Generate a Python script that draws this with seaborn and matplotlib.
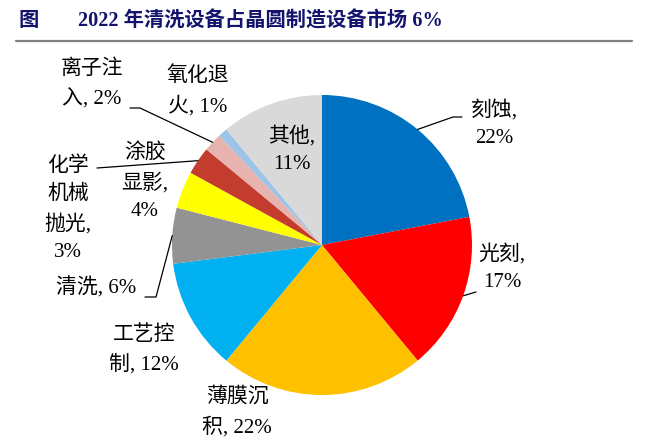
import numpy as np
import matplotlib
matplotlib.use("Agg")
import matplotlib.pyplot as plt
import seaborn as sns

sns.set_style("white")
plt.rcParams['font.family'] = ['Liberation Serif', 'Noto Sans CJK SC', 'DejaVu Sans']

# ---- data ----
categories = ["刻蚀", "光刻", "薄膜沉积", "工艺控制", "清洗", "涂胶显影", "化学机械抛光", "离子注入", "氧化退火", "其他"]
shares = [22, 17, 22, 12, 6, 4, 3, 2, 1, 11]
label_texts = ["刻蚀,\n22%", "光刻,\n17%", "薄膜沉\n积, 22%", "工艺控\n制, 12%", "清洗, 6%",
               "涂胶\n显影,\n4%", "化学\n机械\n抛光,\n3%", "离子注\n入, 2%", "氧化退\n火, 1%", "其他,\n11%"]
colors = ["#0070C0", "#FF0000", "#FFC000", "#00B0F0", "#939393", "#FFFF00",
          "#C43C2E", "#E6B3AE", "#9DC3E6", "#D9D9D9"]
title_text = "2022 年清洗设备占晶圆制造设备市场 6%"

W, H = 648, 447
fig = plt.figure(figsize=(W / 100, H / 100), dpi=100)
ax = fig.add_axes([0, 0, 1, 1])

def Y(y):  # image row -> axis y
    return H - y

cx, cy, R = 322, Y(245), 150
wedges, _ = ax.pie(shares, colors=colors, startangle=90, counterclock=False,
                   center=(cx, cy), radius=R, frame=True,
                   wedgeprops=dict(linewidth=0))
ax.set_xlim(0, W)
ax.set_ylim(0, H)
ax.set_aspect('equal')
ax.axis('off')

# label positions (text centre) and optional leader elbows
label_pos = {
    0: (494, 124), 1: (502, 268), 2: (237, 412), 3: (144, 350), 4: (96, 288),
    5: (145, 182), 6: (68, 209), 7: (92, 84), 8: (198, 91), 9: (292, 150),
}
leaders = {
    0: [(462, 117), (453, 117)],
    1: [(476, 292)],
    4: [(145, 297), (156, 297)],
    6: [(97, 168)],
    7: [(130, 108), (140, 108)],
}
for i, w in enumerate(wedges):
    x, y = label_pos[i]
    ax.text(x, Y(y), label_texts[i], ha='center', va='center', fontsize=15,
            linespacing=1.62, color='black')
    if i in leaders:
        mid = np.deg2rad((w.theta1 + w.theta2) / 2)
        px, py = cx + R * np.cos(mid), cy + R * np.sin(mid)
        xs = [p[0] for p in leaders[i]] + [px]
        ys = [Y(p[1]) for p in leaders[i]] + [py]
        ax.plot(xs, ys, color='black', lw=0.9)

# title
ax.text(18, Y(21), "图", fontsize=14.6, fontweight='bold', color='#14146E', va='center', ha='left')
ax.text(78, Y(21), title_text, fontsize=14.6, fontweight='bold', color='#14146E', va='center', ha='left')
ax.plot([16, 632], [Y(41), Y(41)], color='#808080', lw=1.6)

fig.savefig("out.png", dpi=100)
